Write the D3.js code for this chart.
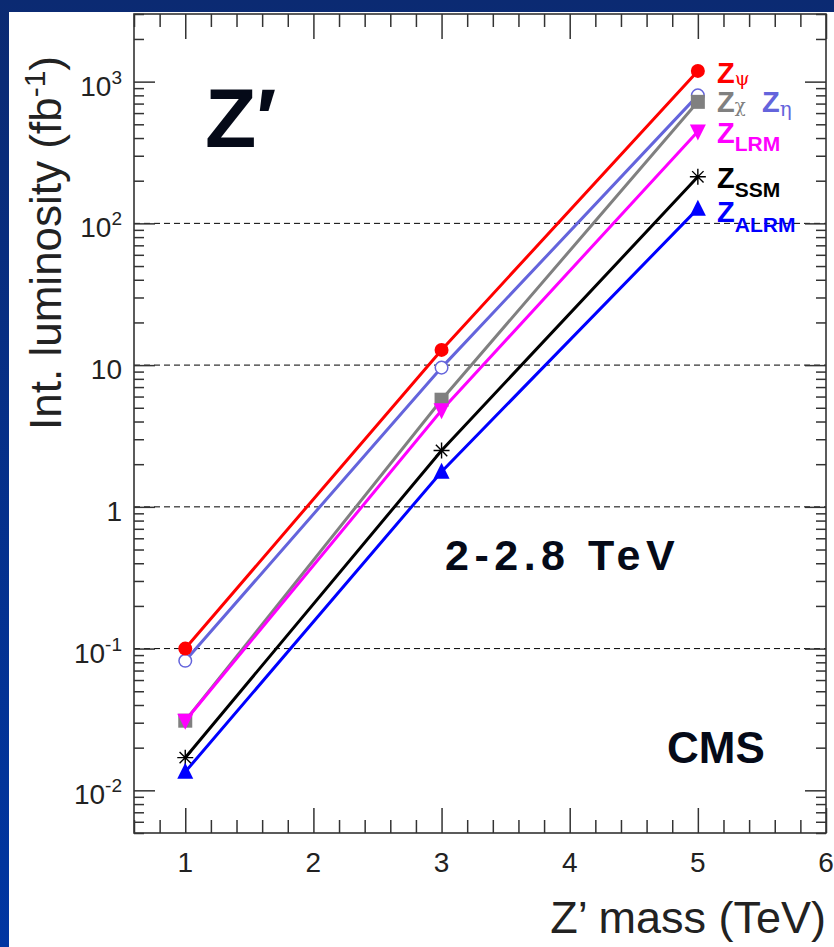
<!DOCTYPE html>
<html>
<head>
<meta charset="utf-8">
<script src="https://cdn.jsdelivr.net/npm/d3@7"></script>
<style>
  html, body { margin: 0; padding: 0; }
  body { width: 834px; height: 947px; overflow: hidden; }
  svg { display: block; font-family: "Liberation Sans", Arial, Helvetica, sans-serif; }
</style>
</head>
<body>
<svg id="chart" width="834" height="947"></svg>
<script>
// Z' mass points (TeV) and required integrated luminosity (fb^-1) per model
const masses = [1, 3, 5];
const zPsi  = [0.100, 12.8, 1190];
const zEta  = [0.082, 9.6, 800];
const zChi  = [0.031, 5.7, 720];
const zLRM  = [0.031, 4.8, 445];
const zSSM  = [0.017, 2.5, 213];
const zALRM = [0.0135, 1.77, 127];

const xTicks = [1, 2, 3, 4, 5, 6];
const yTickExps = [-2, -1, 0, 1, 2, 3];
const yGrid = [0.1, 1, 10, 100];

const series = [
  { name: "eta",  values: zEta,  color: "#6464dc", marker: "openCircle" },
  { name: "chi",  values: zChi,  color: "#808080", marker: "square" },
  { name: "LRM",  values: zLRM,  color: "#ff00ff", marker: "triDown" },
  { name: "SSM",  values: zSSM,  color: "#000000", marker: "star" },
  { name: "ALRM", values: zALRM, color: "#0000ff", marker: "triUp" },
  { name: "psi",  values: zPsi,  color: "#ff0000", marker: "circle" }
];

const svg = d3.select("#chart");

// slide background: blue gradient with white panel
const defs = svg.append("defs");
const grad = defs.append("linearGradient").attr("id", "bg")
  .attr("x1", 0).attr("y1", 0).attr("x2", 0).attr("y2", 1);
grad.append("stop").attr("offset", "0%").attr("stop-color", "#0b2a72");
grad.append("stop").attr("offset", "100%").attr("stop-color", "#0036a2");
svg.append("rect").attr("width", 834).attr("height", 947).attr("fill", "url(#bg)");
svg.append("rect").attr("x", 9).attr("y", 12).attr("width", 825).attr("height", 935).attr("fill", "#ffffff");

const L = 134, R = 826, T = 14, B = 833;
const x = d3.scaleLinear().domain([0.6, 6]).range([L, R]);
const y = d3.scaleLog().domain([0.005, 3000]).range([B, T]);

// dashed grid at selected decades
svg.append("g").selectAll("line").data(yGrid).join("line")
  .attr("x1", L).attr("x2", R)
  .attr("y1", d => y(d)).attr("y2", d => y(d))
  .attr("stroke", "#000").attr("stroke-width", 1).attr("stroke-dasharray", "6,4");

// tick positions
const xMinor = d3.range(0.6, 6.0001, 0.2).map(v => Math.round(v * 10) / 10).filter(v => !xTicks.includes(v));
const yMinor = [];
for (let e = -3; e <= 3; e++) {
  for (let m = 2; m <= 9; m++) {
    const v = m * Math.pow(10, e);
    if (v >= 0.005 && v <= 3000) yMinor.push(v);
  }
}
const yMajor = yTickExps.map(e => Math.pow(10, e));

function axisStyle(g) {
  g.select(".domain").remove();
  g.selectAll(".tick line").attr("stroke", "#333").attr("stroke-width", 1.5);
  g.selectAll(".tick text").remove();
}

// bottom and top ticks (pointing into the frame)
svg.append("g").attr("transform", `translate(0,${B})`)
  .call(d3.axisTop(x).tickValues(xTicks).tickSize(25)).call(axisStyle);
svg.append("g").attr("transform", `translate(0,${B})`)
  .call(d3.axisTop(x).tickValues(xMinor).tickSize(13)).call(axisStyle);
svg.append("g").attr("transform", `translate(0,${T})`)
  .call(d3.axisBottom(x).tickValues(xTicks).tickSize(25)).call(axisStyle);
svg.append("g").attr("transform", `translate(0,${T})`)
  .call(d3.axisBottom(x).tickValues(xMinor).tickSize(13)).call(axisStyle);

// left and right ticks
svg.append("g").attr("transform", `translate(${L},0)`)
  .call(d3.axisRight(y).tickValues(yMajor).tickSize(21)).call(axisStyle);
svg.append("g").attr("transform", `translate(${L},0)`)
  .call(d3.axisRight(y).tickValues(yMinor).tickSize(10)).call(axisStyle);
svg.append("g").attr("transform", `translate(${R},0)`)
  .call(d3.axisLeft(y).tickValues(yMajor).tickSize(21)).call(axisStyle);
svg.append("g").attr("transform", `translate(${R},0)`)
  .call(d3.axisLeft(y).tickValues(yMinor).tickSize(10)).call(axisStyle);

// frame
svg.append("rect").attr("x", L).attr("y", T).attr("width", R - L).attr("height", B - T)
  .attr("fill", "none").attr("stroke", "#333").attr("stroke-width", 1.6);

// x tick labels
svg.append("g").selectAll("text").data(xTicks).join("text")
  .attr("x", d => x(d)).attr("y", 872)
  .attr("text-anchor", "middle").attr("font-size", 28).attr("fill", "#222")
  .text(d => d);

// y tick labels
const yl = svg.append("g").selectAll("text").data(yTickExps).join("text")
  .attr("x", 122).attr("y", d => y(Math.pow(10, d)) + 14)
  .attr("text-anchor", "end").attr("font-size", 28).attr("fill", "#222");
yl.each(function(e) {
  const t = d3.select(this);
  if (e === 0) { t.text("1"); return; }
  if (e === 1) { t.text("10"); return; }
  t.append("tspan").text("10");
  t.append("tspan").attr("dy", -12).attr("font-size", 19).text(String(e));
});

// axis titles
svg.append("text")
  .attr("x", 826).attr("y", 933).attr("text-anchor", "end")
  .attr("font-size", 45).attr("fill", "#222")
  .text("Z\u2019 mass (TeV)");

const yt = svg.append("text")
  .attr("transform", "translate(61,56) rotate(-90)")
  .attr("text-anchor", "end").attr("font-size", 44).attr("fill", "#222");
yt.append("tspan").text("Int. luminosity (fb");
yt.append("tspan").attr("dy", -16).attr("font-size", 30).text("-1");
yt.append("tspan").attr("dy", 16).text(")");

// lines
const line = d3.line().x((d, i) => x(masses[i])).y(d => y(d));
svg.append("g").selectAll("path").data(series).join("path")
  .attr("d", s => line(s.values))
  .attr("fill", "none").attr("stroke", s => s.color).attr("stroke-width", 3);

// markers
function drawMarker(g, type, color) {
  const s = 7;
  if (type === "circle") g.append("circle").attr("r", 7).attr("fill", color);
  else if (type === "openCircle") g.append("circle").attr("r", 6.3).attr("fill", "#fff").attr("stroke", color).attr("stroke-width", 1.5);
  else if (type === "square") g.append("rect").attr("x", -s).attr("y", -s).attr("width", 2 * s).attr("height", 2 * s).attr("fill", color);
  else if (type === "triUp") g.append("path").attr("d", `M0,${-s - 2}L${s + 1},${s}L${-s - 1},${s}Z`).attr("fill", color);
  else if (type === "triDown") g.append("path").attr("d", `M0,${s + 2}L${s + 1},${-s}L${-s - 1},${-s}Z`).attr("fill", color);
  else if (type === "star") {
    const a = 8, b = 5.7;
    g.append("path").attr("d", `M${-a},0H${a}M0,${-a}V${a}M${-b},${-b}L${b},${b}M${-b},${b}L${b},${-b}`)
      .attr("stroke", color).attr("stroke-width", 1.4);
  }
}
series.forEach(s => {
  s.values.forEach((v, i) => {
    const g = svg.append("g").attr("transform", `translate(${x(masses[i])},${y(v)})`);
    drawMarker(g, s.marker, s.color);
  });
});

// model labels
function modelLabel(xp, yp, sub, color, subDy, subSize, subFont) {
  const t = svg.append("text").attr("x", xp).attr("y", yp)
    .attr("fill", color).attr("font-weight", "bold").attr("font-size", 29);
  t.append("tspan").text("Z");
  const st = t.append("tspan").attr("dy", subDy).attr("font-size", subSize).text(sub);
  if (subFont) st.attr("font-family", subFont).attr("font-weight", "normal");
}
modelLabel(717, 83, "\u03C8", "#ff0000", 2, 19, "DejaVu Serif");
modelLabel(717, 112, "\u03C7", "#808080", 0, 18, "DejaVu Serif");
modelLabel(762, 112, "\u03B7", "#6464dc", 4, 20, "DejaVu Serif");
modelLabel(717, 143, "LRM", "#ff00ff", 8, 21);
modelLabel(717, 188, "SSM", "#000000", 9, 21);
modelLabel(717, 222, "ALRM", "#0000ff", 10, 21);

// annotations
svg.append("text").attr("x", 205).attr("y", 147)
  .attr("font-weight", "bold").attr("font-size", 84).attr("fill", "#050a18")
  .text("Z\u2032");
svg.append("text").attr("x", 445).attr("y", 570)
  .attr("font-weight", "bold").attr("font-size", 43).attr("letter-spacing", 5.5).attr("fill", "#050a18")
  .text("2-2.8 TeV");
svg.append("text").attr("x", 667).attr("y", 763)
  .attr("font-weight", "bold").attr("font-size", 44).attr("fill", "#050a18")
  .text("CMS");
</script>
</body>
</html>
